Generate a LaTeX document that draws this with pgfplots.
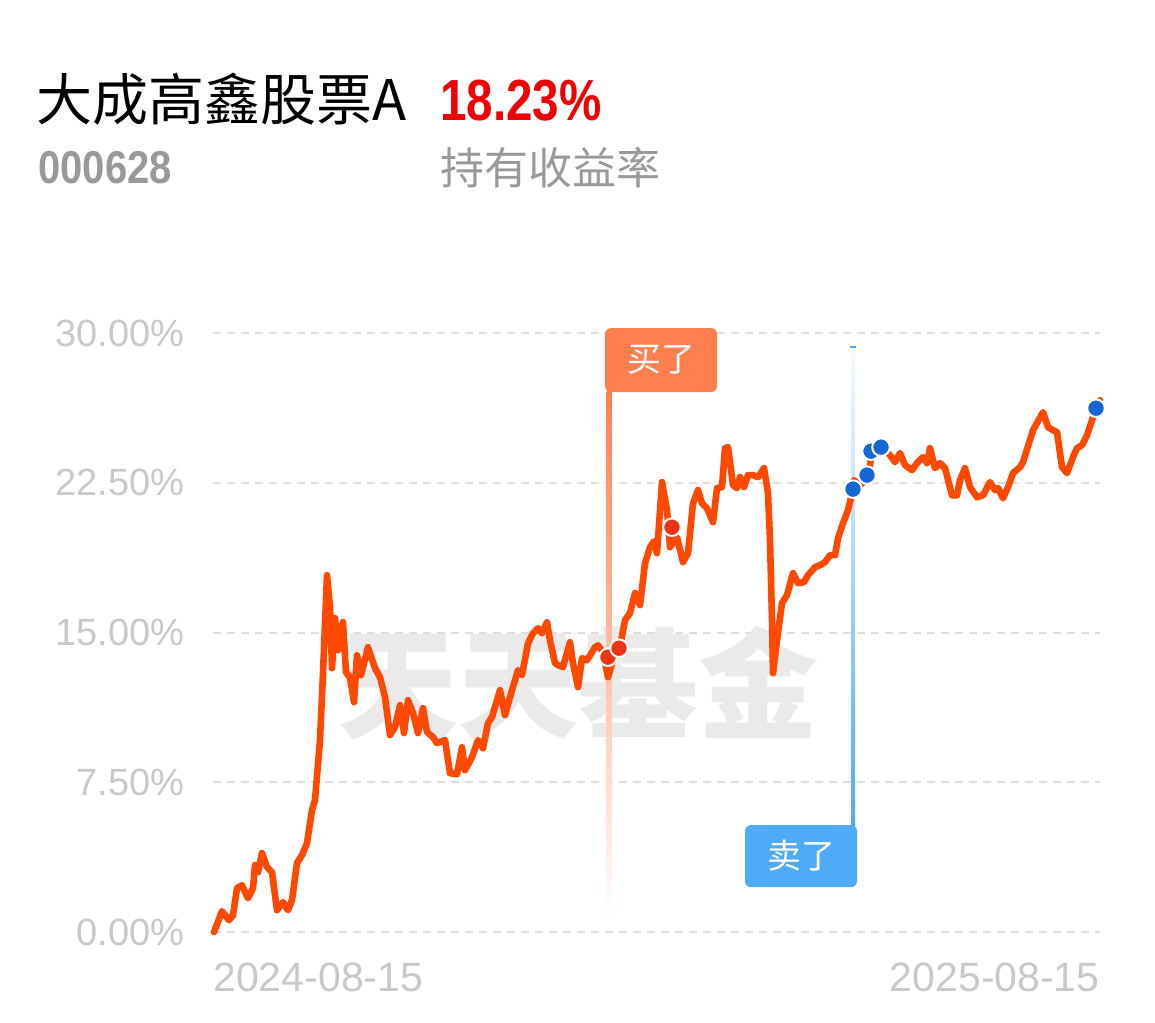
\documentclass[border=0pt]{standalone}
\usepackage{pgfplots}
\pgfplotsset{compat=1.18}
\usepackage{fontspec}
\setmainfont{Liberation Sans}
\newfontfamily\cjk{Noto Sans CJK SC}
\definecolor{linec}{RGB}{255,72,0}
\definecolor{buyc}{RGB}{255,127,80}
\definecolor{sellc}{RGB}{77,171,247}
\definecolor{redm}{RGB}{238,52,20}
\definecolor{bluem}{RGB}{22,102,216}
\definecolor{tickgray}{RGB}{200,200,200}
\definecolor{gridgray}{RGB}{222,222,222}
\definecolor{subgray}{RGB}{153,153,153}
\definecolor{wm}{RGB}{234,234,234}
\definecolor{titlered}{RGB}{240,0,0}
\begin{document}
\begin{tikzpicture}[x=0.5pt,y=0.5pt]
\useasboundingbox (0,0) rectangle (1155,1022);
% header
\node[anchor=base west,inner sep=0pt] at (36,901) {\cjk\fontsize{28pt}{30pt}\selectfont 大成高鑫股票A};
\node[anchor=base west,inner sep=0pt,text=titlered] at (440,901) {\scalebox{0.82}[1]{\fontsize{29pt}{32pt}\selectfont\bfseries 18.23\%}};
\node[anchor=base west,inner sep=0pt,text=subgray] at (38,838) {\scalebox{0.87}[1]{\fontsize{23pt}{26pt}\selectfont\bfseries 000628}};
\node[anchor=base west,inner sep=0pt,text=subgray] at (440,837) {\cjk\fontsize{22pt}{25pt}\selectfont 持有收益率};
\begin{axis}[
  at={(213,45)}, anchor=south west,
  scale only axis, width=443.5pt, height=299.5pt,
  xmin=213, xmax=1100, ymin=0, ymax=30,
  clip=false,
  axis line style={draw=none},
  major tick length=0pt,
  ytick={0,7.5,15,22.5,30},
  yticklabels={0.00\%,7.50\%,15.00\%,22.50\%,30.00\%},
  yticklabel style={font=\fontsize{19pt}{21pt}\selectfont, text=tickgray, anchor=east, inner sep=0pt, xshift=-14pt},
  ymajorgrids,
  grid style={gridgray, line width=1pt, dash pattern=on 4pt off 3pt},
  xtick={213}, xticklabels={2024-08-15},
  xticklabel style={font=\fontsize{20.5pt}{22pt}\selectfont, text=tickgray, anchor=north west, inner sep=0pt, yshift=-15pt},
  extra x ticks={1100}, extra x tick labels={2025-08-15},
  extra x tick style={xticklabel style={anchor=north east}},
]
% watermark
\node[text=wm] at (axis cs:578,12.5) {\cjk\bfseries\fontsize{60pt}{62pt}\selectfont 天天基金};
% buy / sell guide lines
\shade[top color=buyc, middle color=buyc!45, bottom color=white] (axis cs:606.5,0.5) rectangle (axis cs:611.5,27.1);
\fill[buyc, rounded corners=3pt] (axis cs:605,27.05) rectangle (axis cs:717,30.25);
\node[text=white] at (axis cs:661,28.65) {\cjk\fontsize{17pt}{19pt}\selectfont 买了};
\shade[top color=sellc!5, middle color=sellc!55, bottom color=sellc] (axis cs:851,5.3) rectangle (axis cs:855,29.3);
\draw[sellc, line width=1pt] (axis cs:850,29.3) -- (axis cs:856,29.3);
\fill[sellc, rounded corners=3pt] (axis cs:745,2.25) rectangle (axis cs:857,5.36);
\node[text=white] at (axis cs:801,3.81) {\cjk\fontsize{17pt}{19pt}\selectfont 卖了};
% curve
\addplot[linec, line width=3.3pt, line join=round, line cap=round, mark=none] coordinates {
(214,0.00) (222,1.05) (229,0.60) (233,0.85) (237,2.20) (242,2.35) (248,1.70) (253,2.20)
(255,3.36) (258,3.00) (262,3.96) (267,3.26) (272,3.00) (277,1.10) (283,1.50) (288,1.10)
(292,1.60) (297,3.46) (302,3.86) (307,4.46) (312,6.11) (315,6.61) (320,9.62) (323,12.97)
(327,17.88) (330,16.28) (332,13.22) (335,15.73) (338,14.12) (343,15.53) (346,13.02) (350,12.77)
(354,11.52) (357,13.87) (361,12.87) (368,14.27) (375,13.22) (380,12.77) (385,11.77) (390,9.87)
(395,10.27) (400,11.37) (404,9.97) (408,11.62) (413,10.97) (418,9.97) (423,11.22) (427,10.02)
(433,9.77) (437,9.47) (445,9.62) (450,7.96) (457,7.91) (462,9.26) (465,8.11) (472,8.76)
(478,9.62) (483,9.21) (488,10.47) (492,10.77) (500,12.12) (505,10.87) (512,12.12) (518,13.12)
(522,12.87) (528,14.47) (533,14.97) (538,15.22) (542,14.97) (547,15.52) (550,14.62) (555,13.47)
(558,13.37) (563,13.27) (570,14.52) (573,13.47) (578,12.27) (582,13.72) (587,13.62) (595,14.27)
(598,14.37) (603,14.02) (608,12.77) (613,13.62) (620,14.27) (625,15.63) (630,15.98) (635,16.98)
(640,16.38) (645,18.48) (650,19.28) (654,19.58) (657,18.98) (662,22.54) (667,21.13) (670,19.28)
(677,19.78) (683,18.53) (688,18.98) (693,21.48) (698,22.14) (702,21.48) (707,21.23) (713,20.53)
(717,22.24) (722,22.29) (725,24.24) (728,24.29) (733,22.39) (737,22.24) (740,22.79) (744,22.29)
(748,22.89) (753,22.89) (758,22.79) (764,23.24) (768,21.99) (770,19.63) (772,15.63) (773,12.97)
(777,14.62) (782,16.48) (787,16.88) (793,17.98) (798,17.48) (804,17.53) (808,17.88) (815,18.28)
(820,18.38) (825,18.53) (830,18.88) (835,18.88) (838,19.73) (843,20.48) (848,21.13) (852,21.99)
(854,22.64) (860,22.39) (867,22.74) (870,23.39) (872,24.04) (882,24.24) (890,23.89) (895,23.54)
(900,23.99) (905,23.39) (912,23.14) (917,23.49) (923,23.79) (927,23.49) (930,24.24) (935,23.24)
(940,23.49) (945,23.24) (952,21.88) (957,21.88) (960,22.64) (965,23.24) (970,22.29) (977,21.78)
(983,21.88) (990,22.54) (995,22.14) (998,22.24) (1003,21.73) (1008,22.29) (1013,22.99) (1020,23.29)
(1023,23.54) (1033,25.14) (1043,26.04) (1048,25.29) (1053,25.14) (1057,25.04) (1062,23.29) (1067,22.99)
(1073,23.79) (1077,24.24) (1082,24.39) (1087,24.89) (1092,25.64) (1095,26.14) (1100,26.64)
};
% buy markers
\addplot[only marks, mark=*, mark size=4.4pt, mark options={fill=redm, draw=white, line width=1pt}] coordinates {
(608,13.77) (619,14.22) (672,20.28)
};
% sell markers
\addplot[only marks, mark=*, mark size=4.4pt, mark options={fill=bluem, draw=white, line width=1pt}] coordinates {
(853,22.19) (867,22.89) (871,24.09) (881,24.29) (1096,26.24)
};
\end{axis}
\end{tikzpicture}
\end{document}
